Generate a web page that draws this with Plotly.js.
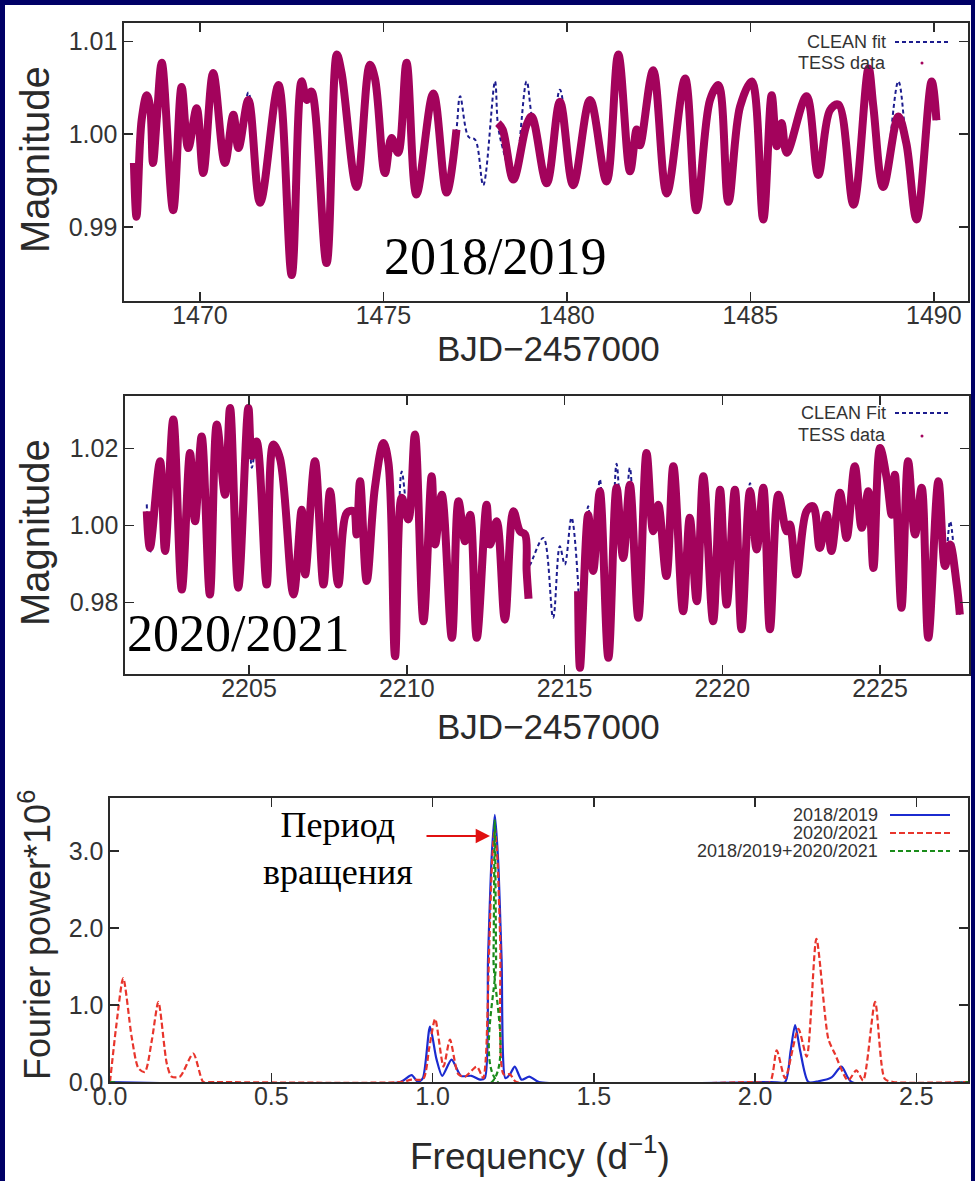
<!DOCTYPE html>
<html>
<head>
<meta charset="utf-8">
<script src="https://cdn.plot.ly/plotly-3.0.1.min.js"></script>
<style>
  html, body { margin: 0; padding: 0; background: #000066; }
  #plot { width: 975px; height: 1181px; }
</style>
</head>
<body>
<div id="plot"></div>
<script>
// ---- Sector light curve 2018/2019 (BJD-2457000, relative magnitude) ----
const t1 = [1468.20,1468.27,1468.41,1468.55,1468.64,1468.72,1468.82,1468.96,1469.27,1469.50,
            1469.68,1469.91,1470.09,1470.36,1470.68,1470.91,1471.05,1471.32,1471.64,1472.14,
            1472.50,1472.77,1472.91,1473.04,1473.45,1473.73,1473.86,1474.27,1474.63,1474.77,
            1475.04,1475.22,1475.40,1475.63,1475.90,1476.36,1476.72,1476.99,1477.09,1477.32,
            1477.50,1477.72,1478.04,1478.12,1478.25,1478.54,1478.90,1479.04,1479.45,1479.81,
            1480.17,1480.63,1481.08,1481.40,1481.72,1481.90,1481.99,1482.35,1482.72,1483.22,
            1483.53,1483.90,1484.13,1484.40,1484.72,1485.04,1485.35,1485.58,1485.72,1485.85,
            1485.99,1486.53,1486.85,1487.17,1487.40,1487.81,1488.22,1488.35,1488.62,1489.03,
            1489.25,1489.53,1489.94,1490.07];
const fit1 = [0.9969,0.9911,1.0015,1.0042,1.0030,0.9969,1.0015,1.0077,0.9918,1.0051,
              0.9985,1.0028,0.9958,1.0066,0.9969,1.0021,0.9985,1.0045,0.9926,1.0053,
              0.9848,1.0057,1.0037,1.0046,0.9861,1.0086,1.0066,0.9943,1.0075,1.0060,
              0.9958,0.9996,0.9980,1.0077,0.9935,1.0044,0.9937,1.0005,1.0041,0.9997,
              0.9994,0.9945,1.0057,1.0010,0.9985,0.9951,1.0057,1.0020,0.9947,1.0048,
              0.9945,1.0037,0.9949,1.0086,0.9960,1.0005,0.9988,1.0069,0.9936,1.0060,
              0.9918,1.0037,1.0053,0.9927,1.0030,1.0057,0.9908,1.0042,0.9987,1.0012,
              0.9980,1.0041,0.9956,1.0026,1.0032,0.9924,1.0071,1.0030,0.9943,1.0057,
              0.9990,0.9908,1.0057,1.0015];
const obs1 = [0.9969,0.9911,1.0015,1.0042,1.0030,0.9969,1.0015,1.0077,0.9918,1.0051,
              0.9985,1.0028,0.9958,1.0066,0.9969,1.0021,0.9985,1.0037,0.9926,1.0053,
              0.9848,1.0057,1.0037,1.0046,0.9861,1.0086,1.0066,0.9943,1.0075,1.0060,
              0.9958,0.9996,0.9980,1.0077,0.9935,1.0044,0.9937,1.0005,null,null,
              null,null,null,1.0012,1.0005,0.9951,1.0010,1.0019,0.9947,1.0035,
              0.9945,1.0037,0.9949,1.0086,0.9960,1.0005,0.9988,1.0069,0.9936,1.0060,
              0.9918,1.0037,1.0053,0.9927,1.0030,1.0057,0.9908,1.0042,0.9987,1.0012,
              0.9980,1.0041,0.9956,1.0026,1.0032,0.9924,1.0071,1.0030,0.9943,1.0019,
              0.9990,0.9908,1.0057,1.0015];

// ---- Sector light curve 2020/2021 ----
const t2 = [2201.76,2201.86,2202.18,2202.34,2202.60,2202.87,2203.13,2203.29,2203.50,2203.76,
            2203.98,2204.24,2204.40,2204.66,2204.98,2205.09,2205.24,2205.56,2205.77,2205.98,
            2206.41,2206.67,2206.78,2207.09,2207.36,2207.57,2207.83,2208.10,2208.31,2208.41,
            2208.52,2208.73,2208.99,2209.26,2209.42,2209.63,2209.84,2210.05,2210.26,2210.53,
            2210.79,2210.90,2211.11,2211.43,2211.64,2211.85,2212.01,2212.22,2212.53,2212.64,
            2212.85,2213.11,2213.38,2213.59,2213.75,2213.80,2213.86,2213.91,2214.33,2214.64,
            2214.85,2215.01,2215.22,2215.43,2215.49,2215.75,2215.91,2216.12,2216.39,2216.65,
            2216.86,2217.07,2217.34,2217.60,2217.81,2217.97,2218.23,2218.45,2218.76,2218.97,
            2219.19,2219.40,2219.71,2219.93,2220.14,2220.40,2220.61,2220.88,2221.09,2221.30,
            2221.51,2221.78,2222.04,2222.14,2222.36,2222.67,2222.88,2223.09,2223.31,2223.46,
            2223.73,2223.94,2224.20,2224.42,2224.63,2224.79,2225.00,2225.21,2225.37,2225.47,
            2225.68,2225.89,2226.11,2226.32,2226.53,2226.85,2227.06,2227.22,2227.43,2227.53];
const fit2 = [1.0055,0.9930,1.0167,0.9934,1.0275,0.9834,1.0188,1.0011,1.0231,0.9821,
              1.0262,1.0080,1.0305,0.9839,1.0305,1.0150,1.0218,0.9847,1.0210,1.0175,
              0.9821,1.0041,0.9873,1.0167,0.9847,1.0089,0.9847,1.0033,1.0037,0.9977,
              1.0115,0.9856,1.0098,1.0214,1.0162,0.9661,1.0140,1.0016,1.0236,0.9752,
              1.0128,0.9951,1.0080,0.9709,1.0063,0.9959,1.0028,0.9709,1.0054,0.9951,
              1.0011,0.9756,1.0037,0.9985,0.9977,0.9905,0.9895,0.9899,0.9968,0.9761,
              0.9946,0.9899,1.0020,0.9850,0.9631,1.0050,0.9882,1.0120,0.9657,1.0160,
              0.9916,1.0150,0.9761,1.0188,0.9985,1.0054,0.9869,1.0154,0.9778,1.0020,
              0.9804,1.0128,0.9752,1.0093,0.9795,1.0093,0.9731,1.0110,0.9938,1.0098,
              0.9731,1.0089,0.9985,1.0003,0.9873,1.0037,1.0050,0.9942,1.0028,0.9934,
              1.0085,0.9968,1.0154,0.9994,1.0089,0.9890,1.0201,1.0123,1.0028,1.0132,
              0.9787,1.0167,0.9977,1.0098,0.9709,1.0115,0.9895,1.0011,0.9847,0.9769];
const obs2 = [1.0037,0.9942,1.0167,0.9934,1.0275,0.9834,1.0188,1.0011,1.0231,0.9821,
              1.0262,1.0080,1.0305,0.9839,1.0305,1.0180,1.0218,0.9847,1.0210,1.0175,
              0.9821,1.0041,0.9873,1.0167,0.9847,1.0089,0.9847,1.0033,1.0037,0.9977,
              1.0115,0.9856,1.0098,1.0214,1.0162,0.9661,1.0072,1.0016,1.0236,0.9752,
              1.0128,0.9951,1.0080,0.9709,1.0063,0.9959,1.0028,0.9709,1.0054,0.9951,
              1.0011,0.9756,1.0037,0.9985,0.9977,0.9882,0.9810,null,null,null,
              null,null,null,0.9830,0.9631,1.0028,0.9882,1.0089,0.9657,1.0098,
              0.9916,1.0106,0.9761,1.0188,0.9985,1.0054,0.9869,1.0154,0.9778,1.0020,
              0.9804,1.0128,0.9752,1.0093,0.9795,1.0093,0.9731,1.0089,0.9938,1.0098,
              0.9731,1.0080,0.9985,1.0003,0.9873,1.0037,1.0050,0.9942,1.0028,0.9934,
              1.0085,0.9968,1.0154,0.9994,1.0089,0.9890,1.0201,1.0123,1.0028,1.0132,
              0.9787,1.0167,0.9977,1.0098,0.9709,1.0115,0.9895,0.9951,0.9847,0.9769];

// ---- Fourier power spectra (frequency in 1/d, power x 1e6) ----
const freqA  = [0.00,0.90,0.935,0.955,0.970,0.992,1.012,1.030,1.059,1.088,1.121,1.147,1.162,1.172,1.183,1.193,1.203,1.214,1.226,1.240,1.255,1.276,1.300,1.330,
                2.050,2.093,2.110,2.124,2.140,2.165,2.196,2.237,2.268,2.299,2.660];
const powerA = [0.00,0.00,0.09,0.00,0.05,0.72,0.30,0.08,0.29,0.08,0.08,0.03,0.05,1.60,2.90,3.47,2.90,1.60,0.05,0.10,0.20,0.03,0.07,0.00,
                0.00,0.00,0.40,0.74,0.40,0.00,0.01,0.06,0.20,0.00,0.00];
const freqB  = [0.000,0.020,0.041,0.067,0.088,0.108,0.130,0.150,0.176,0.191,0.217,0.258,0.289,0.310,0.900,0.935,0.971,0.990,1.008,1.034,1.054,1.080,1.101,1.137,1.157,
                1.165,1.176,1.185,1.193,1.201,1.210,1.220,1.240,1.260,
                2.000,2.046,2.067,2.093,2.134,2.160,2.190,2.227,2.247,2.288,2.314,2.335,2.372,2.402,2.428,2.660];
const powerB = [0.00,0.75,1.35,0.59,0.18,0.13,0.55,1.04,0.24,0.07,0.07,0.37,0.00,0.00,0.00,0.03,0.04,0.45,0.82,0.20,0.55,0.10,0.07,0.20,0.05,
                0.30,1.80,2.90,3.30,2.90,1.80,0.10,0.10,0.00,
                0.00,0.00,0.41,0.05,0.69,0.33,1.86,0.56,0.37,0.02,0.15,0.02,1.04,0.04,0.00,0.00];
const freqC  = [0.000,1.184,1.189,1.193,1.197,1.202,2.660];
const powerC = [0.00,0.00,1.60,3.40,1.60,0.00,0.00];

// ---- tick positions ----
const ticksX1 = [1470,1475,1480,1485,1490];
const ticksY1 = [0.99,1.00,1.01];
const ticksX2 = [2205,2210,2215,2220,2225];
const ticksY2 = [0.98,1.00,1.02];
const ticksX3 = [0,0.5,1,1.5,2,2.5];
const ticksY3 = [0,1,2,3];

const W = 975, H = 1181;
const px = x => x / W;
const py = y => 1 - y / H;

const SANS = '"Liberation Sans", Arial, sans-serif';
const SERIF = '"Liberation Serif", "Times New Roman", serif';

const MAROON = '#a3035c';
const NAVY = '#1c1c8e';
const INK = '#2a2a2a';

function axis(extra) {
  return Object.assign({
    showline: true, mirror: 'ticks', linecolor: INK, linewidth: 1.6,
    ticks: 'inside', ticklen: 9, tickwidth: 1.5, tickcolor: INK,
    showgrid: false, zeroline: false, fixedrange: true,
    tickfont: { family: SANS, size: 25, color: '#333' }
  }, extra);
}
const xTickShift = { ticklabelstandoff: -9 };

const traces = [
  { x: t1, y: fit1, xaxis: 'x', yaxis: 'y', mode: 'lines', connectgaps: true,
    line: { color: NAVY, width: 2, dash: '4px,3px', shape: 'spline', smoothing: 1.0 } },
  { x: t1, y: obs1, xaxis: 'x', yaxis: 'y', mode: 'lines', connectgaps: false,
    line: { color: MAROON, width: 8, shape: 'spline', smoothing: 1.0 } },
  { x: t2, y: fit2, xaxis: 'x2', yaxis: 'y2', mode: 'lines', connectgaps: true,
    line: { color: NAVY, width: 2, dash: '4px,3px', shape: 'spline', smoothing: 1.0 } },
  { x: t2, y: obs2, xaxis: 'x2', yaxis: 'y2', mode: 'lines', connectgaps: false,
    line: { color: MAROON, width: 8, shape: 'spline', smoothing: 1.0 } },
  { x: freqA, y: powerA, xaxis: 'x3', yaxis: 'y3', mode: 'lines',
    line: { color: '#1b2bd0', width: 2.2, shape: 'spline', smoothing: 0.7 } },
  { x: freqB, y: powerB, xaxis: 'x3', yaxis: 'y3', mode: 'lines',
    line: { color: '#e8352c', width: 2.2, dash: '6px,3px', shape: 'spline', smoothing: 0.7 } },
  { x: freqC, y: powerC, xaxis: 'x3', yaxis: 'y3', mode: 'lines',
    line: { color: '#1a8c1a', width: 2.2, dash: '5px,3px', shape: 'spline', smoothing: 0.7 } }
];

const layout = {
  width: W, height: H,
  margin: { l: 0, r: 0, t: 0, b: 0 },
  paper_bgcolor: '#000066',
  plot_bgcolor: '#ffffff',
  showlegend: false,
  xaxis: axis(Object.assign({ domain: [px(124), px(968)], anchor: 'y', range: [1467.93, 1490.93],
                tickvals: ticksX1, ticktext: ticksX1.map(String) }, xTickShift)),
  yaxis: axis({ domain: [py(301), py(23)], anchor: 'x', range: [0.9820, 1.0120],
                tickvals: ticksY1, ticktext: ticksY1.map(v => v.toFixed(2)) }),
  xaxis2: axis(Object.assign({ domain: [px(125), px(969)], anchor: 'y2', range: [2201.07, 2227.82],
                 tickvals: ticksX2, ticktext: ticksX2.map(String) }, xTickShift)),
  yaxis2: axis({ domain: [py(674), py(396)], anchor: 'x2', range: [0.9615, 1.0336],
                 tickvals: ticksY2, ticktext: ticksY2.map(v => v.toFixed(2)) }),
  xaxis3: axis(Object.assign({ domain: [px(110), px(968)], anchor: 'y3', range: [0, 2.66],
                 tickvals: ticksX3, ticktext: ticksX3.map(v => v.toFixed(1)) }, xTickShift)),
  yaxis3: axis({ domain: [py(1082), py(798)], anchor: 'x3', range: [0, 3.69],
                 tickvals: ticksY3, ticktext: ticksY3.map(v => v.toFixed(1)) }),
  shapes: [
    // white slide area
    { type: 'rect', xref: 'paper', yref: 'paper', x0: px(5), x1: px(971), y0: 0, y1: py(5),
      fillcolor: '#ffffff', line: { width: 0 }, layer: 'below' },
    // legend keys, panel 1
    { type: 'line', xref: 'paper', yref: 'paper', x0: px(895), x1: px(948), y0: py(42), y1: py(42),
      line: { color: NAVY, width: 2, dash: '4px,3px' } },
    { type: 'circle', xref: 'paper', yref: 'paper', x0: px(920.5), x1: px(923.5), y0: py(64.5), y1: py(61.5),
      fillcolor: MAROON, line: { width: 0 } },
    // legend keys, panel 2
    { type: 'line', xref: 'paper', yref: 'paper', x0: px(895), x1: px(948), y0: py(413), y1: py(413),
      line: { color: NAVY, width: 2, dash: '4px,3px' } },
    { type: 'circle', xref: 'paper', yref: 'paper', x0: px(920.5), x1: px(923.5), y0: py(437.5), y1: py(434.5),
      fillcolor: MAROON, line: { width: 0 } },
    // legend keys, panel 3
    { type: 'line', xref: 'paper', yref: 'paper', x0: px(890), x1: px(950), y0: py(815), y1: py(815),
      line: { color: '#1b2bd0', width: 2.2 } },
    { type: 'line', xref: 'paper', yref: 'paper', x0: px(890), x1: px(950), y0: py(833), y1: py(833),
      line: { color: '#e8352c', width: 2.2, dash: '6px,3px' } },
    { type: 'line', xref: 'paper', yref: 'paper', x0: px(890), x1: px(950), y0: py(851), y1: py(851),
      line: { color: '#1a8c1a', width: 2.2, dash: '5px,3px' } }
  ],
  annotations: []
};

function label(text, x, y, opts) {
  layout.annotations.push(Object.assign({
    text: text, xref: 'paper', yref: 'paper', x: px(x), y: py(y),
    xanchor: 'center', yanchor: 'middle', showarrow: false,
    font: { family: SANS, size: 35, color: '#2a2a2a' }
  }, opts || {}));
}

// axis titles
const magFont = { family: SANS, size: 40, color: '#2a2a2a' };
label('Magnitude', 35, 160, { textangle: -90, font: magFont });
label('BJD\u22122457000', 548, 348);
label('Magnitude', 35, 533, { textangle: -90, font: magFont });
label('BJD\u22122457000', 548, 726);
label('Fourier power*10<sup>6</sup>', 35, 935, { textangle: -90, font: { family: SANS, size: 36, color: '#2a2a2a' } });
label('Frequency (d<sup>\u22121</sup>)', 540, 1153, { font: { family: SANS, size: 37, color: '#2a2a2a' } });

// legend texts
const legFont = { family: SANS, size: 18, color: '#333' };
label('CLEAN fit', 888, 42, { xanchor: 'right', font: legFont });
label('TESS data', 888, 63, { xanchor: 'right', font: legFont });
label('CLEAN Fit', 888, 413, { xanchor: 'right', font: legFont });
label('TESS data', 888, 435, { xanchor: 'right', font: legFont });
label('2018/2019', 880, 815, { xanchor: 'right', font: legFont });
label('2020/2021', 880, 833, { xanchor: 'right', font: legFont });
label('2018/2019+2020/2021', 880, 851, { xanchor: 'right', font: legFont });

// season labels and the rotation-period note
const bigSerif = { family: SERIF, size: 52, color: '#000000' };
label('2018/2019', 495, 256, { font: bigSerif });
label('2020/2021', 238, 633, { font: bigSerif });
label('Период<br>вращения', 338, 848, { font: { family: SERIF, size: 36, color: '#000000' }, align: 'center' });
layout.annotations.push({
  xref: 'paper', yref: 'paper', x: px(490), y: py(836), ax: -65, ay: 0,
  text: '', showarrow: true, arrowhead: 2, arrowsize: 1.3, arrowwidth: 2.2, arrowcolor: '#e01010'
});

Plotly.newPlot('plot', traces, layout, { staticPlot: true, displayModeBar: false });
</script>
</body>
</html>
